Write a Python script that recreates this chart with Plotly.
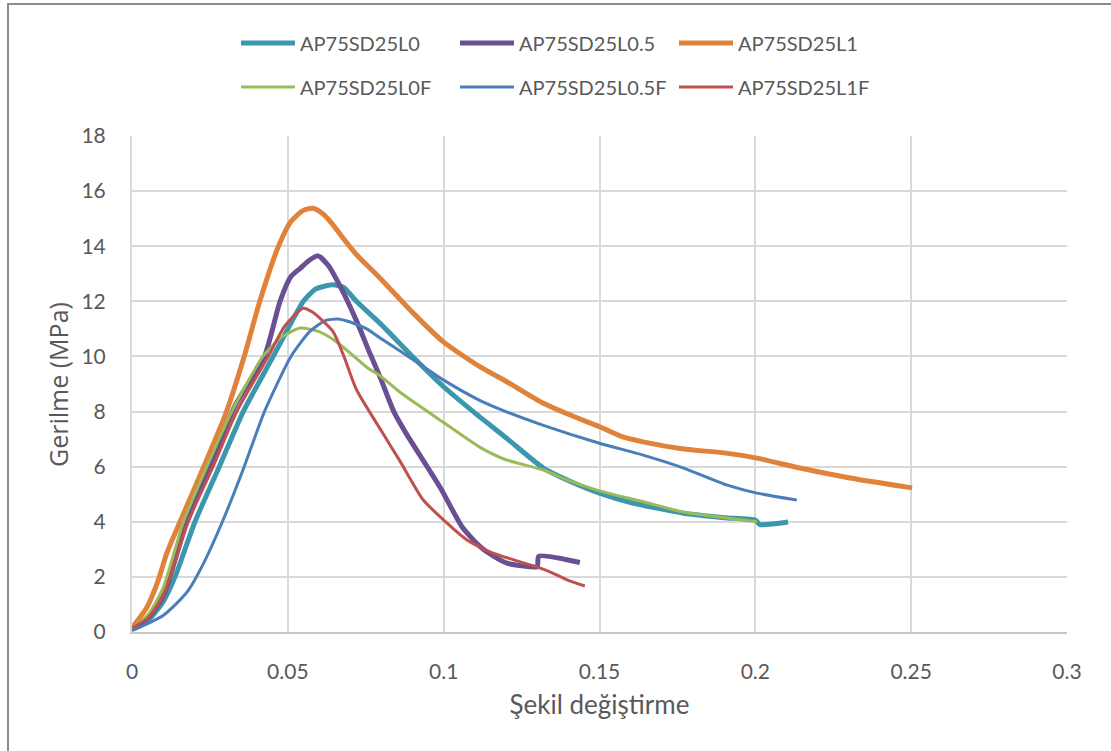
import plotly.graph_objects as go

# Stress-strain test results (strain [-], stress [MPa])
l0_strain = [0, 0.005, 0.01, 0.0138, 0.0202, 0.028, 0.0357, 0.0453, 0.05, 0.055, 0.059, 0.0645,
             0.068, 0.072, 0.0796, 0.09, 0.1, 0.11, 0.12, 0.132, 0.14, 0.15, 0.16, 0.177, 0.19,
             0.2, 0.2015, 0.2105]
l0_stress = [0.1, 0.4, 1.1, 2.0, 4.0, 6.0, 8.0, 10.0, 11.0, 12.0, 12.45, 12.6,
             12.5, 12.0, 11.2, 10.0, 8.9, 7.95, 7.05, 5.95, 5.5, 5.04, 4.7, 4.31, 4.15,
             4.06, 3.9, 3.99]

l05_strain = [0, 0.005, 0.01, 0.017, 0.025, 0.033, 0.0425, 0.0475, 0.051, 0.054, 0.057, 0.0597,
              0.063, 0.067, 0.072, 0.076, 0.0796, 0.084, 0.088, 0.0988, 0.106, 0.1117, 0.116,
              0.1203, 0.125, 0.13, 0.1305, 0.1437]
l05_stress = [0.15, 0.5, 1.3, 3.8, 6.0, 8.2, 10.0, 12.0, 12.9, 13.2, 13.5, 13.65,
              13.3, 12.5, 11.3, 10.2, 9.25, 8.0, 7.2, 5.26, 3.8, 3.1, 2.75,
              2.5, 2.4, 2.37, 2.75, 2.52]

l1_strain = [0, 0.0048, 0.0085, 0.0112, 0.02, 0.03, 0.036, 0.041, 0.047, 0.051,
             0.055, 0.058, 0.061, 0.064, 0.067, 0.072, 0.0796, 0.09, 0.1, 0.1117, 0.12, 0.132,
             0.14, 0.15, 0.157, 0.164, 0.177, 0.19, 0.2005, 0.2143, 0.2304, 0.2503]
l1_stress = [0.15, 0.9, 1.9, 2.87, 5.2, 7.9, 10.0, 12.0, 14.0, 14.9,
             15.3, 15.38, 15.2, 14.85, 14.4, 13.7, 12.84, 11.6, 10.52, 9.62, 9.1, 8.3,
             7.9, 7.45, 7.1, 6.9, 6.64, 6.5, 6.31, 5.95, 5.59, 5.23]

l0f_strain = [0, 0.005, 0.01, 0.0165, 0.024, 0.032, 0.042, 0.048, 0.054, 0.06, 0.066, 0.0754,
              0.0796, 0.086, 0.1, 0.1117, 0.12, 0.132, 0.14, 0.15, 0.165, 0.177, 0.19, 0.2005]
l0f_stress = [0.15, 0.6, 1.6, 4.0, 6.0, 8.0, 10.0, 10.7, 11.03, 10.9, 10.5, 9.6,
              9.3, 8.7, 7.6, 6.7, 6.25, 5.88, 5.5, 5.12, 4.7, 4.35, 4.15, 4.0]

l05f_strain = [0, 0.005, 0.01, 0.014, 0.018, 0.023, 0.029, 0.036, 0.0425, 0.051, 0.057, 0.062,
               0.066, 0.07, 0.0753, 0.0796, 0.086, 0.1, 0.1117, 0.12, 0.132, 0.15, 0.164,
               0.177, 0.191, 0.2005, 0.2133]
l05f_stress = [0.05, 0.3, 0.6, 1.0, 1.5, 2.5, 4.0, 6.0, 8.0, 10.0, 10.9, 11.3,
               11.36, 11.25, 11.0, 10.67, 10.2, 9.14, 8.4, 8.0, 7.5, 6.85, 6.42,
               5.95, 5.33, 5.04, 4.79]

l1f_strain = [0, 0.005, 0.01, 0.018, 0.026, 0.0336, 0.0437, 0.049, 0.0549, 0.058, 0.0645, 0.068,
              0.072, 0.08, 0.086, 0.0934, 0.101, 0.1075, 0.115, 0.123, 0.131, 0.135, 0.1396,
              0.1453]
l1f_stress = [0.15, 0.5, 1.3, 4.0, 6.0, 8.0, 10.0, 11.1, 11.75, 11.6, 10.9, 10.0,
              8.8, 7.3, 6.2, 4.8, 3.96, 3.34, 2.9, 2.6, 2.32, 2.14, 1.89,
              1.67]

series = [
    ("AP75SD25L0", l0_strain, l0_stress, "#3C97AE", 5, "legend"),
    ("AP75SD25L0.5", l05_strain, l05_stress, "#6A5093", 5, "legend"),
    ("AP75SD25L1", l1_strain, l1_stress, "#E0823A", 5, "legend"),
    ("AP75SD25L0F", l0f_strain, l0f_stress, "#9BBB59", 3, "legend2"),
    ("AP75SD25L0.5F", l05f_strain, l05f_stress, "#4A7EBB", 3, "legend2"),
    ("AP75SD25L1F", l1f_strain, l1f_stress, "#C0504D", 3, "legend2"),
]

x_ticks = [0, 0.05, 0.1, 0.15, 0.2, 0.25, 0.3]
y_ticks = [0, 2, 4, 6, 8, 10, 12, 14, 16, 18]

TEXT = "#595959"
GRID = "#D9D9D9"

fig = go.Figure()
for name, xs, ys, color, width, leg in series:
    fig.add_trace(go.Scatter(
        x=xs, y=ys, name=name, mode="lines", legend=leg,
        line=dict(color=color, width=width, shape="spline", smoothing=0.6),
    ))

legend_common = dict(
    orientation="h", xanchor="left", yanchor="middle",
    font=dict(family="Lato", size=20, color=TEXT),
    itemwidth=54, entrywidth=150, entrywidthmode="pixels",
    bgcolor="rgba(0,0,0,0)", borderwidth=0,
)

fig.update_layout(
    width=1111, height=751,
    margin=dict(l=132, r=44, t=136, b=119),
    paper_bgcolor="white", plot_bgcolor="white",
    font=dict(family="Lato", color=TEXT),
    legend=dict(x=(236 - 132) / 935, y=(632 - 43) / 496, **legend_common),
    legend2=dict(x=(236 - 132) / 935, y=(632 - 87) / 496, **legend_common),
    xaxis=dict(
        range=[0, 0.3], tickvals=x_ticks, showgrid=True, gridcolor=GRID, gridwidth=2,
        showline=True, linecolor="#C8C8C8", linewidth=2, zeroline=False,
        tickfont=dict(family="Lato", size=21, color=TEXT), ticklabelstandoff=20,
        title=dict(text="Şekil değiştirme", font=dict(family="Lato", size=26, color=TEXT),
                   standoff=14),
    ),
    yaxis=dict(
        range=[0, 18], tickvals=y_ticks, showgrid=True, gridcolor=GRID, gridwidth=2,
        showline=True, linecolor=GRID, linewidth=2, zeroline=False,
        tickfont=dict(family="Lato", size=21, color=TEXT), ticklabelstandoff=20,
    ),
    annotations=[dict(
        text="Gerilme (MPa)", textangle=-90, showarrow=False,
        xref="paper", yref="paper", x=(58 - 132) / 935, y=(632 - 385) / 496,
        xanchor="center", yanchor="middle",
        font=dict(family="Open Sans", size=25, color=TEXT),
    )],
    shapes=[dict(
        type="rect", xref="paper", yref="paper", layer="above",
        x0=(8 - 132) / 935, x1=1.3, y0=-0.5, y1=(632 - 4) / 496,
        line=dict(color="#8C8C8C", width=2), fillcolor="rgba(0,0,0,0)",
    )],
)

fig.write_html("out.html")
